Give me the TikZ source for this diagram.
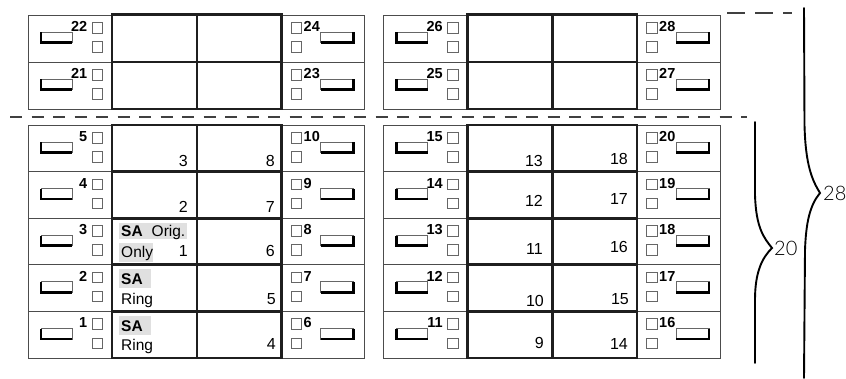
\documentclass[tikz,border=0pt]{standalone}
\usepackage{fontspec}
\setmainfont{Liberation Sans}
\newfontfamily\thinfont{Lato Light}
\begin{document}
\begin{tikzpicture}[x=1pt,y=-1pt,
  panel/.style={draw=black!70, line width=0.9pt},
  cellbox/.style={draw=black!88, line width=2.8pt},
  sq/.style={draw=black!60, line width=0.8pt},
  keythin/.style={draw=black!60, line width=0.8pt},
  keythick/.style={draw=black, line width=2.8pt, line cap=square},
  knum/.style={font=\bfseries\fontsize{14.5}{14.5}\selectfont, inner sep=0pt},
  cnum/.style={font=\fontsize{16}{16}\selectfont, inner sep=0pt, anchor=base east},
  satext/.style={font=\fontsize{15.5}{15.5}\selectfont, inner sep=0pt, anchor=base west},
  satag/.style={fill=black!12, draw=none},
  dashline/.style={draw=black!75, line width=1.1pt},
  bracestyle/.style={draw=black, line width=1.9pt, line cap=round},
  bracelabel/.style={font=\thinfont\fontsize{20}{20}\selectfont, inner sep=0pt, anchor=west}]
\useasboundingbox (0,0) rectangle (846,379);

% panel rows: top y, height, group offset, left number, right number
\foreach \T/\h/\ox/\ln/\rn [count=\i] in {
  15/47/0/22/24, 62/47/0/21/23, 15/47/355.5/26/28, 62/47/355.5/25/27,
  125/46.6/0/5/10, 171.6/46.6/0/4/9, 218.2/46.6/0/3/8, 264.8/46.6/0/2/7, 311.4/46.6/0/1/6,
  125/46.6/355.5/15/20, 171.6/46.6/355.5/14/19, 218.2/46.6/355.5/13/18, 264.8/46.6/355.5/12/17, 311.4/46.6/355.5/11/16} {
  % left panel
  \draw[panel] (28+\ox,\T) rectangle (112+\ox,\T+\h);
  \draw[keythin] (41+\ox,\T+17) rectangle (72+\ox,\T+27.5);
  \draw[keythick] (41+\ox,\T+17.5) -- (41+\ox,\T+27.5) -- (72+\ox,\T+27.5);
  \node[knum, anchor=east] (ln\i) at (87.5+\ox,\T+11.5) {\ln};
  \draw[sq] (92+\ox,\T+7.5) rectangle (102.5+\ox,\T+18);
  \draw[sq] (92+\ox,\T+26.5) rectangle (102.5+\ox,\T+37);
  % right panel
  \draw[panel] (281.5+\ox,\T) rectangle (364.5+\ox,\T+\h);
  \draw[sq] (291+\ox,\T+7.5) rectangle (301.5+\ox,\T+18);
  \draw[sq] (291+\ox,\T+26.5) rectangle (301.5+\ox,\T+37);
  \node[knum, anchor=west] (rn\i) at (303.5+\ox,\T+11.5) {\rn};
  \draw[keythin] (320.5+\ox,\T+17) rectangle (353.5+\ox,\T+27.5);
  \draw[keythick] (353.5+\ox,\T+17.5) -- (353.5+\ox,\T+27.5) -- (320.5+\ox,\T+27.5);
}

% SA highlight boxes
\fill[satag] (118.5,222.7) rectangle (187,239.2);
\fill[satag] (118.5,243.2) rectangle (153,262.2);
\fill[satag] (118.5,269.3) rectangle (150.5,288.3);
\fill[satag] (118.5,315.9) rectangle (150.5,334.9);

% thick cell blocks
\foreach \ox in {0,355.5} {
  \draw[cellbox] (112+\ox,14.5) rectangle (281.5+\ox,109);
  \draw[cellbox] (197+\ox,14.5) -- (197+\ox,109);
  \draw[cellbox] (112+\ox,62) -- (281.5+\ox,62);
  \draw[cellbox] (112+\ox,125) rectangle (281.5+\ox,358);
  \draw[cellbox] (197+\ox,125) -- (197+\ox,358);
  \foreach \yy in {171.6,218.2,264.8,311.4}
    \draw[cellbox] (112+\ox,\yy) -- (281.5+\ox,\yy);
}

% SA texts
\node[satext, font=\bfseries\fontsize{15.5}{15.5}\selectfont] (sa3) at (121,236.7) {SA};
\node[satext] (orig) at (151.5,236.7) {Orig.};
\node[satext] (only) at (121,258) {Only};
\node[satext, font=\bfseries\fontsize{15.5}{15.5}\selectfont] (sa2) at (121,284.8) {SA};
\node[satext] (ring2) at (121,304.3) {Ring};
\node[satext, font=\bfseries\fontsize{15.5}{15.5}\selectfont] (sa1) at (121,331.4) {SA};
\node[satext] (ring1) at (121,350.9) {Ring};

% cell numbers: right x, row top, baseline offset, text
\foreach \x/\T/\b/\t [count=\j] in {
  188/125/42/3, 188/171.6/41/2, 188/218.2/38/1,
  275/125/42/8, 275/171.6/41/7, 275/218.2/38/6, 276/264.8/40/5, 276/311.4/38/4,
  543/125/42/13, 543/171.6/35/12, 543/218.2/36/11, 544/264.8/42/10, 544/311.4/37/9,
  628/125/40/18, 628/171.6/33/17, 628/218.2/34/16, 629/264.8/40/15, 628/311.4/38/14} {
  \node[cnum] (cn\j) at (\x,\T+\b) {\t};
}

% dashed separators
\draw[dashline, dash pattern=on 12pt off 9.5pt] (10,117) -- (747,117);
\draw[dashline, dash pattern=on 18pt off 10pt] (727,13) -- (792,13);

% braces
\draw[bracestyle] (755,122) -- (755,195) .. controls (756,228) and (764,238) .. (772,248)
  .. controls (762,258) and (755,272) .. (755,300) -- (755,363);
\node[bracelabel] (l20) at (774,248) {20};
\draw[bracestyle] (804,8) -- (804.5,125) .. controls (805.5,165) and (812,180) .. (820,193)
  .. controls (810,205) and (806,222) .. (805,250) -- (804,378);
\node[bracelabel] (l28) at (823,193) {28};
\end{tikzpicture}
\end{document}
